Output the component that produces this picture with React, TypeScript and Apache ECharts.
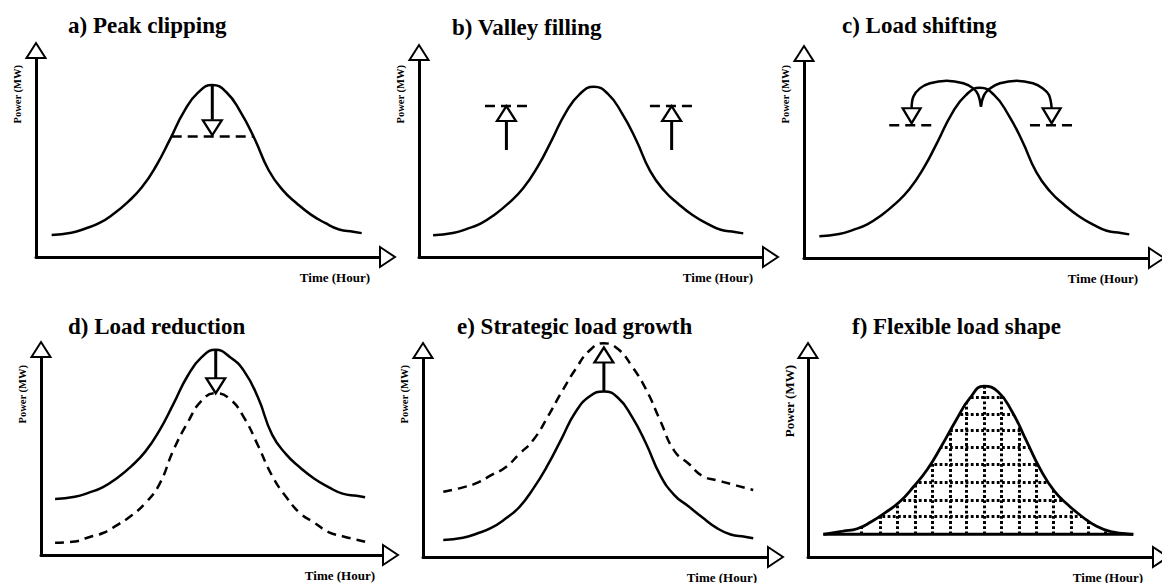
import React, { useEffect, useRef } from "react";
import * as echarts from "echarts";

// ---------- data (hours, MW) ----------
const HOURS = [1, 2.4, 3.4, 4.4, 5.4, 6.4, 7.4, 8.4, 9.4, 10.4, 11.4, 12.4, 13.4, 14.4, 15.4, 16.4, 17.4, 18.4, 19.4, 20.4, 21.4, 22.4, 23];
const BASE_LOAD = [1.11, 1.22, 1.43, 1.71, 2.17, 2.76, 3.5, 4.56, 5.91, 7.32, 8.27, 8.64, 8.28, 7.29, 5.94, 4.36, 3.36, 2.69, 2.13, 1.71, 1.38, 1.27, 1.2];
const REDUCTION_BEFORE = [2.83, 2.94, 3.15, 3.43, 3.89, 4.48, 5.22, 6.28, 7.63, 9.04, 9.99, 10.36, 10.0, 9.3, 7.95, 6.08, 5.08, 4.41, 3.85, 3.43, 3.1, 2.99, 2.92];
const REDUCTION_AFTER = [0.62, 0.68, 0.9, 1.11, 1.51, 1.98, 2.62, 3.57, 5.3, 6.68, 7.8, 8.17, 7.88, 6.95, 5.53, 4.0, 2.93, 2.1, 1.63, 1.16, 0.95, 0.77, 0.67];
const GROWTH_BEFORE = [0.86, 0.97, 1.18, 1.46, 1.92, 2.51, 3.45, 4.6, 5.95, 7.3, 8.08, 8.32, 8.0, 7.04, 5.69, 4.11, 3.11, 2.55, 1.98, 1.46, 1.13, 1.02, 0.94];
const GROWTH_AFTER = [3.28, 3.5, 3.72, 4.11, 4.5, 5.18, 5.89, 7.03, 8.29, 9.45, 10.39, 10.74, 10.45, 9.58, 8.42, 6.85, 5.33, 4.7, 4.07, 3.86, 3.67, 3.48, 3.37];
const FLEX_LOAD = [1.14, 1.3, 1.42, 1.77, 2.23, 2.76, 3.53, 4.42, 5.59, 6.85, 7.98, 8.59, 8.3, 7.3, 5.86, 4.41, 3.31, 2.6, 2.01, 1.54, 1.27, 1.18, 1.14];

// annotations
const PEAK_CLIP_LEVEL = [[9.52, 6.05], [15.31, 6.05]];
const PEAK_CLIP_SHAFT = [[12.4, 8.64], [12.4, 6.9]];
const PEAK_CLIP_HEAD = [[12.4, 6.5]];

const VALLEY_LEVEL_L = [[4.68, 7.66], [7.87, 7.66]];
const VALLEY_LEVEL_R = [[16.38, 7.66], [19.57, 7.66]];
const VALLEY_SHAFT_L = [[6.2, 5.43], [6.2, 7.0]];
const VALLEY_SHAFT_R = [[17.92, 5.43], [17.92, 7.0]];
const VALLEY_HEADS = [[6.2, 7.28], [17.92, 7.28]];

const SHIFT_LEVEL_L = [[5.96, 6.74], [9.14, 6.74]];
const SHIFT_LEVEL_R = [[15.95, 6.74], [19.14, 6.74]];
const SHIFT_ARC_L = [[7.55, 7.6], [7.67, 8.19], [8.14, 8.61], [8.85, 8.87], [10.04, 9.0], [11.22, 8.87], [11.93, 8.61], [12.28, 8.27], [12.47, 7.68]];
const SHIFT_ARC_R = [[12.47, 7.68], [12.69, 8.27], [13.11, 8.61], [13.82, 8.87], [15.0, 9.0], [16.16, 8.87], [16.87, 8.61], [17.3, 8.27], [17.49, 7.6]];
const SHIFT_HEADS = [[7.55, 7.22], [17.49, 7.22]];

const REDUCTION_SHAFT = [[12.4, 10.36], [12.4, 8.9]];
const REDUCTION_HEAD = [[12.4, 8.55]];

const GROWTH_SHAFT = [[12.4, 8.32], [12.4, 9.8]];
const GROWTH_HEAD = [[12.4, 10.15]];

const FLEX_BASELINE = [[1, 1.14], [23, 1.14]];
const HATCH_X = [3.72, 5.02, 6.25, 7.5, 8.76, 9.99, 11.17, 12.4, 13.66, 14.91, 16.14, 17.32, 18.58, 19.8, 21.04];
const HATCH_Y = [2.03, 2.86, 3.78, 4.66, 5.54, 6.38, 7.19, 8.01];
const HATCH_TOP = 9.6;
const HATCH_LEFT = 1.5;
const HATCH_RIGHT = 22.5;

const X_NAME = "Time (Hour)";
const Y_NAME = "Power (MW)";

// ---------- layout ----------
const PANELS = [
  { title: "a) Peak clipping", tl: 68, tt: 14, left: 36, top: 58, width: 344, height: 199, xMin: -0.11, xMax: 24.3, tGap: -10, pGap: -7, pSize: 10.5 },
  { title: "b) Valley filling", tl: 452, tt: 16, left: 419, top: 60, width: 344, height: 197, xMin: 0, xMax: 24.4, tGap: -10, pGap: -5, pSize: 10.5 },
  { title: "c) Load shifting", tl: 842, tt: 14, left: 804, top: 61, width: 345, height: 197, xMin: -0.09, xMax: 24.4, tGap: -11, pGap: -4, pSize: 10.5 },
  { title: "d) Load reduction", tl: 68, tt: 315, left: 41, top: 357, width: 342, height: 198, xMin: 0, xMax: 24.27, tGap: -8, pGap: -8, pSize: 10.5 },
  { title: "e) Strategic load growth", tl: 457, tt: 315, left: 423, top: 358, width: 345, height: 199, xMin: -0.44, xMax: 24.05, tGap: -11, pGap: -7, pSize: 10.5 },
  { title: "f) Flexible load shape", tl: 852, tt: 315, left: 808, top: 358, width: 345, height: 199, xMin: -0.09, xMax: 24.4, tGap: -10, pGap: -7, pSize: 13 },
];

const FONT = "Liberation Serif";
const INK = "#000";

const pairs = (ys: number[]) => HOURS.map((h, i) => [h, ys[i]]);

function lineSeries(g: number, data: any[], o: any = {}) {
  return {
    type: "line",
    xAxisIndex: g,
    yAxisIndex: g,
    data,
    symbol: "none",
    showSymbol: false,
    smooth: o.smooth ?? false,
    clip: false,
    silent: true,
    z: o.z ?? 2,
    lineStyle: { color: INK, width: o.width ?? 2.5, type: o.dash ?? "solid", cap: "butt" },
    areaStyle: o.area,
  };
}

function heads(g: number, pts: number[][], rotate: number, size: number[] = [19, 15]) {
  return {
    type: "scatter",
    xAxisIndex: g,
    yAxisIndex: g,
    symbol: "triangle",
    symbolSize: size,
    clip: false,
    silent: true,
    z: 6,
    data: pts.map((p) => ({ value: p, symbolRotate: rotate })),
    itemStyle: { color: "#fff", borderColor: INK, borderWidth: 2.2, opacity: 1 },
  };
}

function buildOption() {
  const title = PANELS.map((p) => ({
    text: p.title,
    left: p.tl,
    top: p.tt,
    padding: 0,
    textStyle: { fontFamily: FONT, fontWeight: "bold", fontSize: 23, color: INK },
  }));
  const grid = PANELS.map((p) => ({
    left: p.left,
    top: p.top,
    width: p.width,
    height: p.height,
    containLabel: false,
    outerBoundsMode: "none",
  }));
  const xAxis = PANELS.map((p, i) => ({
    type: "value",
    gridIndex: i,
    min: p.xMin,
    max: p.xMax,
    name: X_NAME,
    nameLocation: "end",
    nameGap: p.tGap,
    nameTextStyle: { fontFamily: FONT, fontWeight: "bold", fontSize: 13, color: INK, align: "right", verticalAlign: "top", lineHeight: 40 },
    axisLine: { show: true, onZero: false, symbol: ["none", "emptyTriangle"], symbolSize: [20, 15], symbolOffset: [0, 7.5], lineStyle: { color: INK, width: 3 } },
    axisTick: { show: false },
    axisLabel: { show: false },
    splitLine: { show: false },
  }));
  const yAxis = PANELS.map((p, i) => ({
    type: "value",
    gridIndex: i,
    min: 0,
    max: 10,
    name: Y_NAME,
    nameLocation: "end",
    nameRotate: 90,
    nameGap: p.pGap,
    nameTextStyle: { fontFamily: FONT, fontWeight: "bold", fontSize: p.pSize, color: INK, align: "right", verticalAlign: "bottom", lineHeight: 38 },
    axisLine: { show: true, onZero: false, symbol: ["none", "emptyTriangle"], symbolSize: [19, 15], symbolOffset: [0, 7.5], lineStyle: { color: INK, width: 3 } },
    axisTick: { show: false },
    axisLabel: { show: false },
    splitLine: { show: false },
  }));

  const dashH = [10, 6];
  const dashC = [9, 6];
  const series: any[] = [];

  // a) peak clipping
  series.push(lineSeries(0, pairs(BASE_LOAD), { smooth: true }));
  series.push(lineSeries(0, PEAK_CLIP_LEVEL, { dash: dashH }));
  series.push(lineSeries(0, PEAK_CLIP_SHAFT, { width: 3 }));
  series.push(heads(0, PEAK_CLIP_HEAD, 180));

  // b) valley filling
  series.push(lineSeries(1, pairs(BASE_LOAD), { smooth: true }));
  series.push(lineSeries(1, VALLEY_LEVEL_L, { dash: dashH }));
  series.push(lineSeries(1, VALLEY_LEVEL_R, { dash: dashH }));
  series.push(lineSeries(1, VALLEY_SHAFT_L, { width: 3 }));
  series.push(lineSeries(1, VALLEY_SHAFT_R, { width: 3 }));
  series.push(heads(1, VALLEY_HEADS, 0));

  // c) load shifting
  series.push(lineSeries(2, pairs(BASE_LOAD), { smooth: true }));
  series.push(lineSeries(2, SHIFT_LEVEL_L, { dash: dashH }));
  series.push(lineSeries(2, SHIFT_LEVEL_R, { dash: dashH }));
  series.push(lineSeries(2, SHIFT_ARC_L, { smooth: 0.4, width: 2.5 }));
  series.push(lineSeries(2, SHIFT_ARC_R, { smooth: 0.4, width: 2.5 }));
  series.push(heads(2, SHIFT_HEADS, 180, [18, 15]));

  // d) load reduction
  series.push(lineSeries(3, pairs(REDUCTION_BEFORE), { smooth: true }));
  series.push(lineSeries(3, pairs(REDUCTION_AFTER), { smooth: true, dash: dashC }));
  series.push(lineSeries(3, REDUCTION_SHAFT, { width: 3 }));
  series.push(heads(3, REDUCTION_HEAD, 180));

  // e) strategic load growth
  series.push(lineSeries(4, pairs(GROWTH_BEFORE), { smooth: true }));
  series.push(lineSeries(4, pairs(GROWTH_AFTER), { smooth: true, dash: dashC }));
  series.push(lineSeries(4, GROWTH_SHAFT, { width: 3 }));
  series.push(heads(4, GROWTH_HEAD, 0));

  // f) flexible load shape
  const hatch: any[] = [];
  HATCH_X.forEach((x) => hatch.push({ coords: [[x, FLEX_BASELINE[0][1]], [x, HATCH_TOP]] }));
  HATCH_Y.forEach((y) => hatch.push({ coords: [[HATCH_LEFT, y], [HATCH_RIGHT, y]] }));
  series.push({
    type: "lines",
    coordinateSystem: "cartesian2d",
    xAxisIndex: 5,
    yAxisIndex: 5,
    silent: true,
    z: 1,
    data: hatch,
    lineStyle: { color: INK, width: 3, type: [2.8, 2.4], opacity: 1, curveness: 0 },
  });
  series.push(
    lineSeries(5, pairs(FLEX_LOAD), {
      smooth: true,
      z: 2,
      width: 2.8,
      area: { color: "#fff", opacity: 1, origin: "end" },
    })
  );
  series.push(lineSeries(5, FLEX_BASELINE, { width: 3, z: 3 }));

  return {
    animation: false,
    backgroundColor: "#fff",
    title,
    grid,
    xAxis,
    yAxis,
    series,
  };
}

export default function App() {
  const ref = useRef<HTMLDivElement>(null);
  useEffect(() => {
    if (!ref.current) return;
    const chart = echarts.init(ref.current, undefined, { renderer: "svg" });
    chart.setOption(buildOption() as any);
    return () => chart.dispose();
  }, []);
  return <div ref={ref} style={{ position: "fixed", left: 0, top: 0, width: 1162, height: 583, background: "#fff" }} />;
}
